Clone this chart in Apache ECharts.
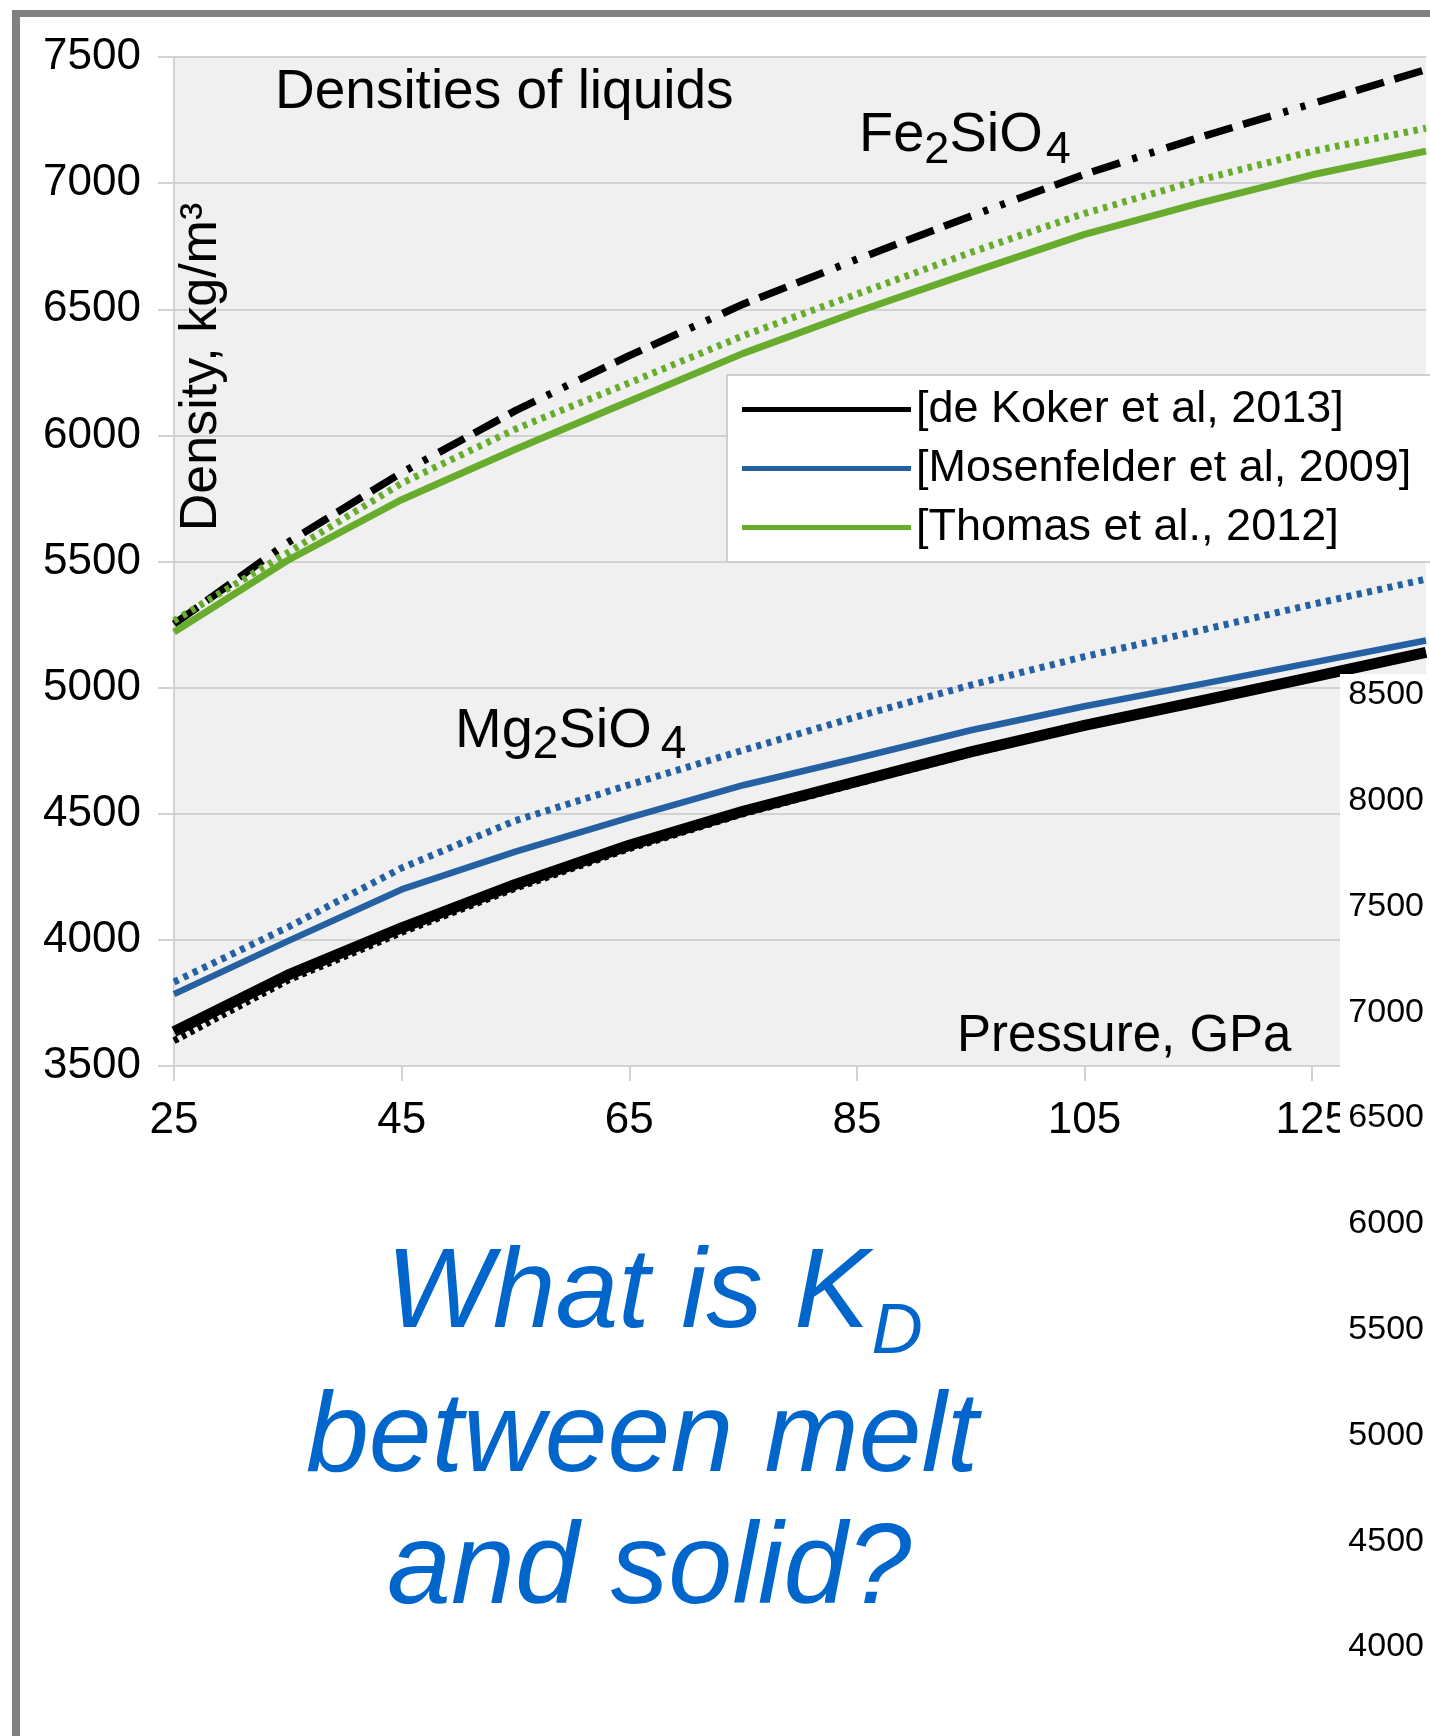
<!DOCTYPE html>
<html>
<head>
<meta charset="utf-8">
<script src="https://cdn.jsdelivr.net/npm/echarts@6/dist/echarts.min.js"></script>
<style>
html, body { margin: 0; padding: 0; background: #ffffff; }
#chart { width: 1430px; height: 1736px; }
</style>
</head>
<body>
<div id="chart"></div>
<script>
// ---------- data ----------
const pressure = [25, 35, 45, 55, 65, 75, 85, 95, 105, 115, 125, 135];

// Fe2SiO4 liquids
const feDeKoker       = [5252, 5575, 5852, 6098, 6316, 6520, 6698, 6869, 7035, 7180, 7315, 7450];
const feThomasDotted  = [5265, 5535, 5810, 6025, 6208, 6395, 6560, 6725, 6880, 7011, 7126, 7218];
const feThomas        = [5220, 5505, 5745, 5945, 6135, 6325, 6490, 6645, 6797, 6920, 7033, 7127];

// Mg2SiO4 liquids
const mgDeKoker           = [3636, 3860, 4048, 4220, 4375, 4510, 4628, 4745, 4850, 4945, 5042, 5140];
const mgDeKokerDotted     = [3600, 3840, 4030, 4205, 4362, 4500, 4620, 4738, 4845, 4940, 5038, 5136];
const mgMosenfelder       = [3785, 3995, 4200, 4350, 4485, 4613, 4720, 4831, 4926, 5012, 5099, 5187];
const mgMosenfelderDotted = [3833, 4050, 4285, 4473, 4615, 4752, 4885, 5010, 5123, 5225, 5330, 5430];

const seriesNames = ['[de Koker et al, 2013]', '[Mosenfelder et al, 2009]', '[Thomas et al., 2012]'];

const xTicks = [25, 45, 65, 85, 105, 125];
const yTicks = [3500, 4000, 4500, 5000, 5500, 6000, 6500, 7000, 7500];
const rightTicks = [4000, 4500, 5000, 5500, 6000, 6500, 7000, 7500, 8000, 8500];

const chartTitle = 'Densities of liquids';
const yTitle = 'Density, kg/m³';
const xTitle = 'Pressure, GPa';
const questionLines = ['What is K', 'between melt', 'and solid?'];
const questionSub = 'D';

// ---------- helpers ----------
const FONT = '"Liberation Sans", Arial, Helvetica, sans-serif';
const mctx = document.createElement('canvas').getContext('2d');
function measure(t, size, fstyle) {
  mctx.font = (fstyle || 'normal') + ' ' + size + 'px ' + FONT;
  return mctx.measureText(t).width;
}
// place a run of text pieces on a baseline (supports subscripts via dy)
function textRun(parts, x, baseline, color, italic, z) {
  const els = [];
  let cx = x;
  const fs = italic ? 'italic' : 'normal';
  parts.forEach(function (p) {
    cx += (p.dx || 0);
    els.push({
      type: 'text', z: z || 60,
      x: cx, y: baseline + (p.dy || 0) - 0.3465 * p.size,
      style: {
        text: p.t, fontSize: p.size, fontFamily: FONT, fontStyle: fs,
        fill: color, align: 'left', verticalAlign: 'middle',
        textAlign: 'left', textVerticalAlign: 'middle'
      }
    });
    cx += measure(p.t, p.size, fs);
  });
  return els;
}

function mkLine(name, data, color, width, type, z) {
  return {
    type: 'line', name: name, z: z,
    data: pressure.map(function (p, i) { return [p, data[i]]; }),
    symbol: 'none', showSymbol: false, smooth: false,
    itemStyle: { color: color },
    lineStyle: { color: color, width: width, type: type, cap: 'butt', join: 'round' },
    emphasis: { disabled: true },
    animation: false
  };
}
function plain(v) { return String(v); }

const BLACK = '#000000', BLUE = '#2560a2', GREEN = '#68ac2d';
const GRID_GRAY = '#d2d2d2';

const graphics = []
  // white block with the second axis' labels (covers part of the plot)
  .concat([{ type: 'rect', z: 50, shape: { x: 1340, y: 674, width: 92, height: 1064 }, style: { fill: '#ffffff' } }])
  // grey slide frame (top and left)
  .concat([
    { type: 'rect', z: 100, shape: { x: 12, y: 10, width: 1420, height: 7 }, style: { fill: '#808080' } },
    { type: 'rect', z: 100, shape: { x: 12, y: 10, width: 8, height: 1728 }, style: { fill: '#808080' } }
  ])
  .concat(textRun([{ t: chartTitle, size: 55 }], 275, 112, '#000', false))
  .concat(textRun([
    { t: 'Fe', size: 56 }, { t: '2', size: 45, dy: 11 }, { t: 'SiO', size: 56 }, { t: '4', size: 45, dy: 11, dx: 3 }
  ], 859, 155, '#000', false))
  .concat(textRun([
    { t: 'Mg', size: 56 }, { t: '2', size: 46, dy: 10 }, { t: 'SiO', size: 56 }, { t: '4', size: 46, dy: 10, dx: 9 }
  ], 455, 751, '#000', false))
  .concat(textRun([{ t: xTitle, size: 51 }], 957, 1055, '#000', false))
  .concat([{
    type: 'text', z: 60, x: 202, y: 367, rotation: Math.PI / 2,
    style: { text: yTitle, fontSize: 52, fontFamily: FONT, fill: '#000',
      align: 'center', verticalAlign: 'middle', textAlign: 'center', textVerticalAlign: 'middle' }
  }])
  .concat(textRun([{ t: questionLines[0], size: 113 }, { t: questionSub, size: 71, dy: 23, dx: 2 }], 386, 1335, '#0066cc', true))
  .concat(textRun([{ t: questionLines[1], size: 113 }], 306, 1479, '#0066cc', true))
  .concat(textRun([{ t: questionLines[2], size: 115 }], 387, 1611, '#0066cc', true));

const option = {
  animation: false,
  backgroundColor: '#ffffff',
  textStyle: { fontFamily: FONT },
  grid: [
    { left: 174, top: 57, right: 4, bottom: 670, show: true, backgroundColor: '#f0f0f0', borderWidth: 0, containLabel: false },
    { left: 1426, top: 695, right: 2, bottom: 89, show: false, containLabel: false }
  ],
  xAxis: [
    {
      type: 'value', gridIndex: 0, min: 25, max: 135, interval: 20,
      axisLine: { show: true, lineStyle: { color: GRID_GRAY, width: 2 } },
      axisTick: { show: true, length: 15, inside: false, lineStyle: { color: GRID_GRAY, width: 2 } },
      axisLabel: { show: true, fontSize: 44, color: '#000', margin: 33, showMaxLabel: false, showMinLabel: true, hideOverlap: false, formatter: plain },
      splitLine: { show: false }
    },
    { type: 'value', gridIndex: 1, show: false, min: 0, max: 1 }
  ],
  yAxis: [
    {
      type: 'value', gridIndex: 0, min: 3500, max: 7500, interval: 500,
      axisLine: { show: true, lineStyle: { color: GRID_GRAY, width: 2 } },
      axisTick: { show: true, length: 16, inside: false, lineStyle: { color: GRID_GRAY, width: 2 } },
      axisLabel: { show: true, fontSize: 44, color: '#000', margin: 33, hideOverlap: false, formatter: plain },
      splitLine: { show: true, lineStyle: { color: GRID_GRAY, width: 2 } }
    },
    {
      type: 'value', gridIndex: 1, min: 4000, max: 8500, interval: 500, position: 'left', z: 120,
      axisLine: { show: false }, axisTick: { show: false }, splitLine: { show: false },
      axisLabel: { show: true, fontSize: 34, color: '#000', margin: 2, hideOverlap: false, formatter: plain }
    }
  ],
  legend: {
    data: seriesNames,
    orient: 'vertical', left: 727, top: 375,
    padding: [5, 22, 5, 15], itemGap: 0,
    itemWidth: 169, itemHeight: 5, icon: 'rect',
    backgroundColor: '#ffffff', borderColor: '#cfcfcf', borderWidth: 2,
    selectedMode: false,
    textStyle: { fontSize: 45, color: '#000', fontFamily: FONT, lineHeight: 59 }
  },
  graphic: { elements: graphics },
  series: [
    mkLine(seriesNames[0], mgDeKoker, BLACK, 11, 'solid', 6),
    mkLine(seriesNames[1], mgMosenfelder, BLUE, 6.5, 'solid', 5),
    mkLine(seriesNames[2], feThomas, GREEN, 7, 'solid', 5),
    mkLine(seriesNames[0], feDeKoker, BLACK, 7.5, [29, 11, 29, 11, 29, 13, 5, 13, 5, 13], 4),
    mkLine(seriesNames[2], feThomasDotted, GREEN, 7, [4.5, 5.5], 4),
    mkLine(seriesNames[0], mgDeKokerDotted, BLACK, 7, [4.5, 4.5], 3),
    mkLine(seriesNames[1], mgMosenfelderDotted, BLUE, 7, [5, 5.5], 4)
  ]
};

const chart = echarts.init(document.getElementById('chart'), null, { renderer: 'canvas' });
chart.setOption(option);
</script>
</body>
</html>
